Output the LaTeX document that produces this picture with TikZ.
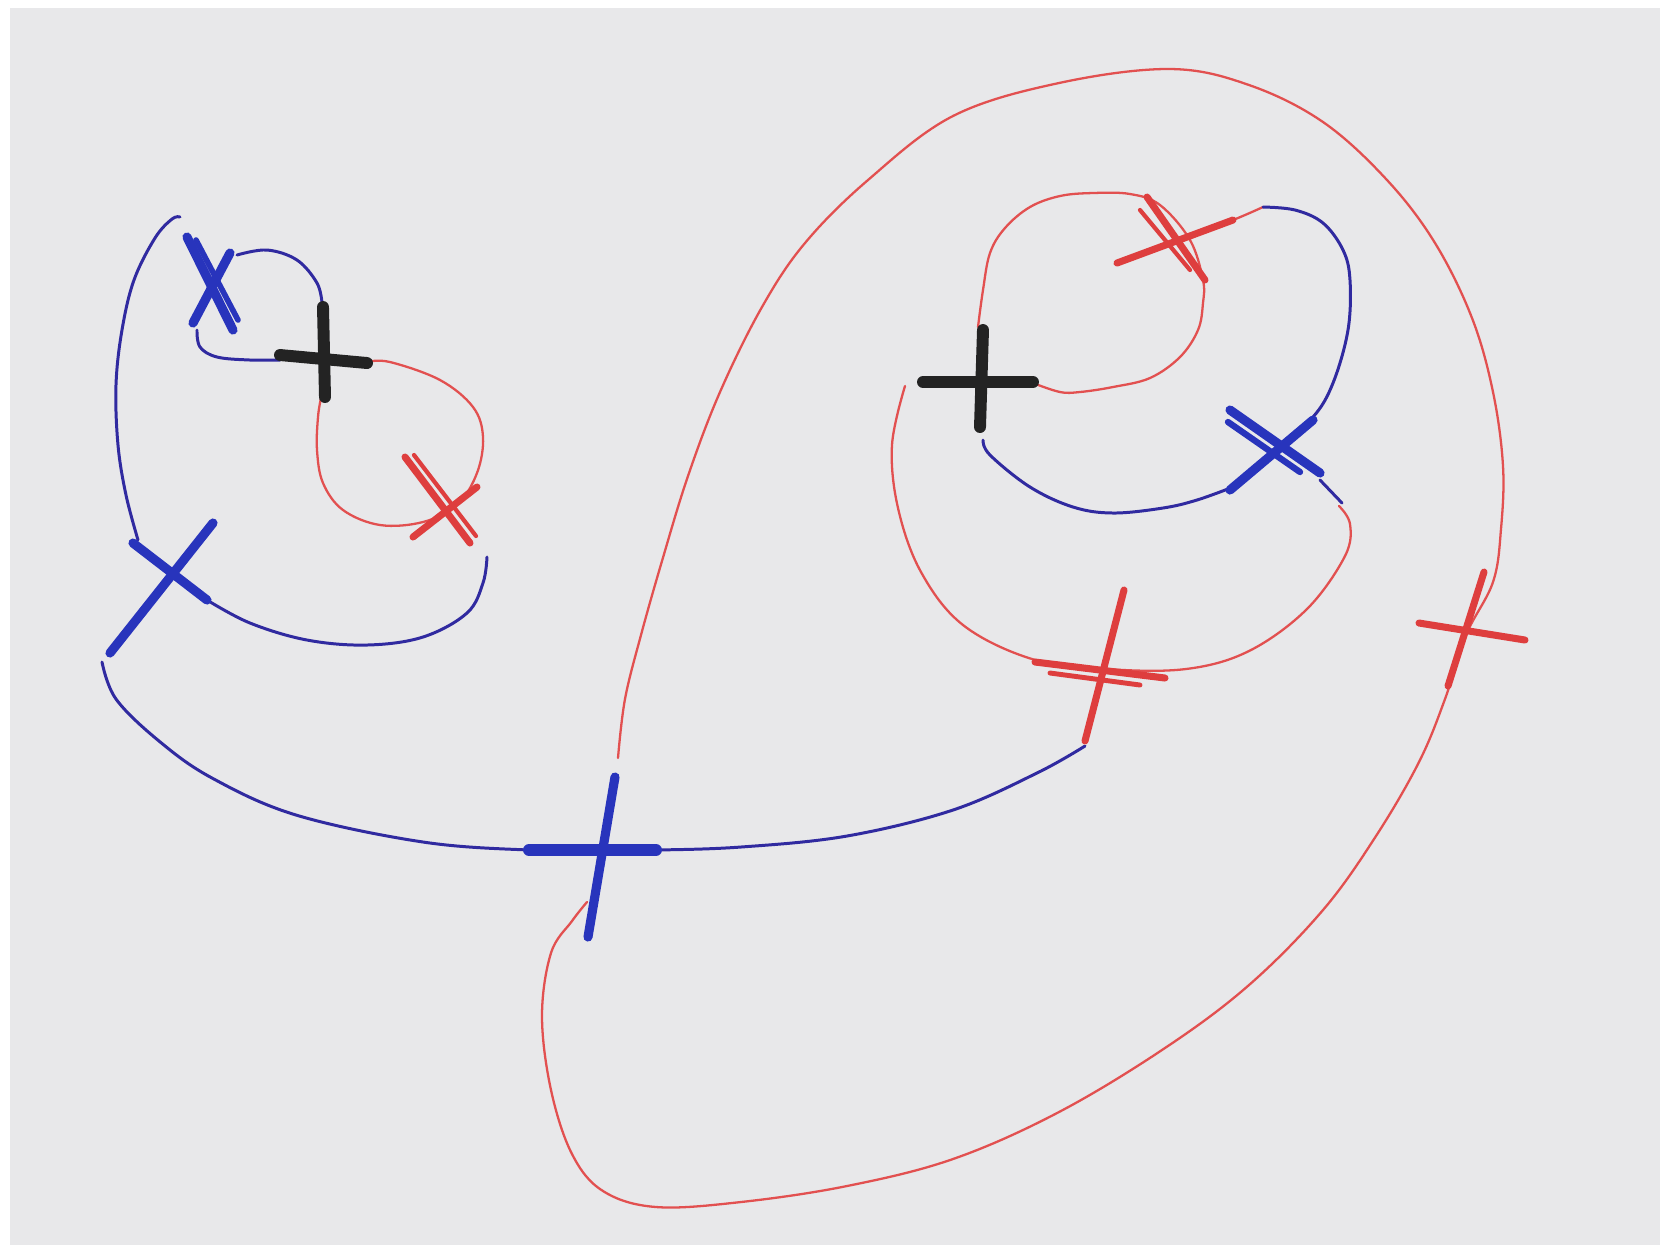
\documentclass[tikz,border=0pt]{standalone}
\usetikzlibrary{calc}
\definecolor{paper}{RGB}{232,232,234}
\definecolor{penblue}{RGB}{48,42,160}
\definecolor{markblue}{RGB}{40,52,188}
\definecolor{penred}{RGB}{226,80,80}
\definecolor{markred}{RGB}{222,62,62}
\definecolor{markblack}{RGB}{35,35,35}
\tikzset{
  blueline/.style={draw=penblue,line width=0.85pt,line cap=round,line join=round},
  redline/.style={draw=penred,line width=0.65pt,line cap=round,line join=round},
  bluemark/.style={draw=markblue,line width=2.6pt,line cap=round},
  redmark/.style={draw=markred,line width=2pt,line cap=round},
  blackmark/.style={draw=markblack,line width=3.4pt,line cap=round},
  sm/.style={smooth,tension=0.6},
}
\begin{document}
\begin{tikzpicture}[x=0.01cm,y=-0.01cm]
\useasboundingbox (0,0) rectangle (1660,1253);
\fill[white] (0,0) rectangle (1660,1253);
\fill[paper] (10,8) rectangle (1660,1245);

% ---------- left cluster ----------
% outer blue arc
\draw[blueline] plot[sm] coordinates {(138,540) (126,495) (118,445) (116,385) (122,330) (134,280) (155,238) (172,219) (180,217)};
% small blue loop (upper)
\draw[blueline] plot[sm] coordinates {(237,255) (267,250) (297,260) (317,283) (322,303)};
% small blue loop (lower)
\draw[blueline] plot[sm] coordinates {(197,330) (200,347) (217,357) (250,360) (280,360)};
% red loop left
\draw[redline] plot[sm] coordinates {(367,362) (390,362) (440,380) (473,407) (483,437) (477,473) (457,505) (423,522) (380,525) (343,510) (323,483) (317,450) (318,417) (321,398)};
% blue lower arc left
\draw[blueline] plot[sm] coordinates {(487,557) (483,583) (467,613) (423,637) (367,645) (307,640) (250,623) (207,600)};
% long blue bottom arc
\draw[blueline] plot[sm] coordinates {(102,662) (116,699) (159,741) (212,778) (296,815) (423,842) (529,850) (598,850) (656,850) (741,847) (847,836) (953,810) (1037,773) (1085,746)};

% marks left
\draw[bluemark] (187,237) -- (233,330);
\draw[bluemark,line width=1.6pt] (196,240) -- (238,320);
\draw[bluemark] (230,253) -- (193,323);
\draw[blackmark] (323,307) -- (325,397);
\draw[blackmark] (280,355) -- (367,363);
\draw[redmark] (405,457) -- (470,543);
\draw[redmark,line width=1.2pt] (414,455) -- (476,536);
\draw[redmark] (477,487) -- (413,537);
\draw[bluemark] (213,523) -- (110,653);
\draw[bluemark] (133,543) -- (207,600);
% central blue mark
\draw[bluemark,line width=3.4pt] (529,850) -- (656,850);
\draw[bluemark] (615,777) -- (588,937);

% ---------- big red loop ----------
\draw[redline] plot[sm] coordinates {(618,758) (625,699) (641,635) (662,561) (688,476) (720,392) (762,307) (805,243) (868,180) (953,116) (1059,83) (1170,69) (1249,85) (1323,122) (1387,180) (1435,243) (1472,318) (1493,392) (1503,466) (1501,529) (1493,582) (1466,635) (1445,699) (1419,762) (1376,836) (1323,910) (1249,985) (1165,1048) (1059,1112) (953,1159) (847,1186) (741,1202) (656,1207) (603,1191) (572,1154) (551,1090) (542,1016) (551,953) (572,921) (587,902)};

% ---------- right cluster ----------
% inner red loop
\draw[redline] plot[sm] coordinates {(978,327) (983,290) (990,253) (1005,228) (1030,207) (1060,196) (1093,193) (1130,194) (1160,205) (1190,240) (1203,280) (1203,303) (1198,330) (1180,357) (1150,378) (1113,387) (1080,392) (1060,392) (1033,383)};
% red from X to blue
\draw[redline] plot[sm] coordinates {(1180,240) (1233,220) (1263,207)};
% blue arc right
\draw[blueline] plot[sm] coordinates {(1263,207) (1295,210) (1323,223) (1343,250) (1350,280) (1348,330) (1333,383) (1313,417) (1277,447)};
% inner blue arc
\draw[blueline] plot[sm] coordinates {(983,440) (990,455) (1030,487) (1073,507) (1113,513) (1163,508) (1197,500) (1233,487)};
\draw[blueline] (1320,480) -- (1342,503);
% lower red loop
\draw[redline] plot[sm] coordinates {(905,386) (892,445) (898,508) (921,572) (963,625) (1032,659) (1106,669) (1186,669) (1249,651) (1307,609) (1345,556) (1350,524) (1339,506)};

% marks right
\draw[blackmark] (983,330) -- (980,427);
\draw[blackmark] (923,382) -- (1033,382);
\draw[redmark] (1147,197) -- (1205,280);
\draw[redmark,line width=1.2pt] (1140,210) -- (1190,270);
\draw[redmark] (1117,263) -- (1233,220);
\draw[bluemark] (1230,410) -- (1320,473);
\draw[bluemark,line width=1.8pt] (1228,422) -- (1300,472);
\draw[bluemark] (1313,420) -- (1230,490);
\draw[redmark] (1124,590) -- (1085,741);
\draw[redmark] (1035,662) -- (1165,678);
\draw[redmark,line width=1.4pt] (1050,673) -- (1140,685);
\draw[redmark] (1484,572) -- (1448,686);
\draw[redmark] (1419,623) -- (1525,640);
\end{tikzpicture}
\end{document}
